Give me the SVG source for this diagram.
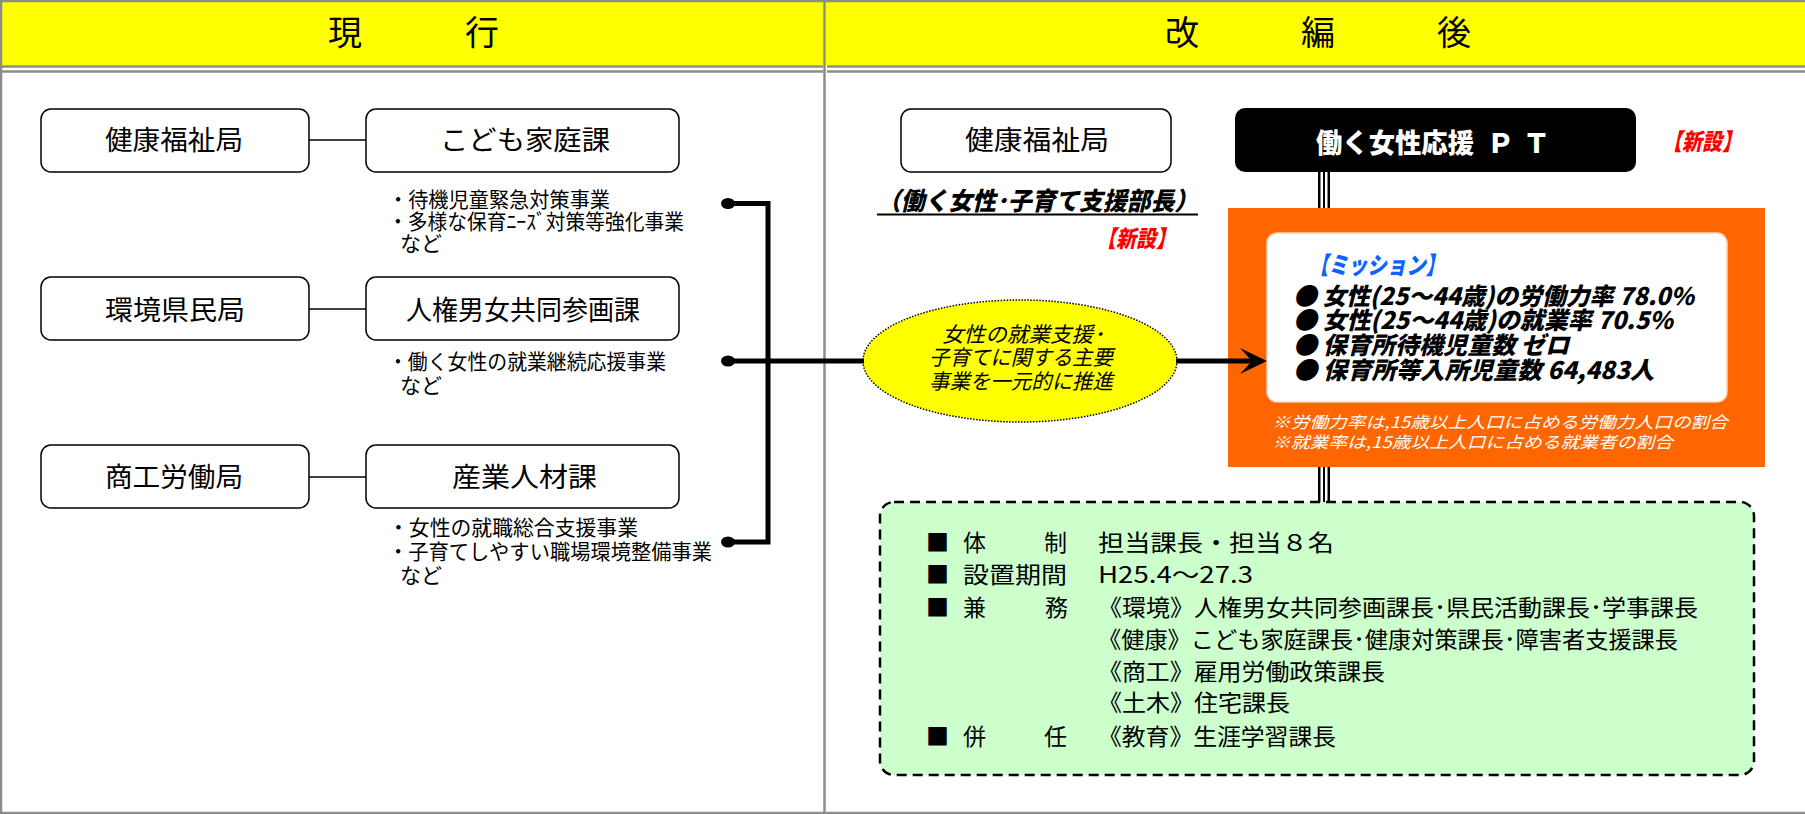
<svg xmlns="http://www.w3.org/2000/svg" width="1805" height="814" viewBox="0 0 1805 814">
<defs>
<style>
text { font-family: 'Noto Sans CJK JP', 'Noto Sans', sans-serif; fill:#000; }
.box { fill:#fff; stroke:#000; stroke-width:1.5; }
.lnk { stroke:#000; stroke-width:1.5; fill:none; }
.thick { stroke:#000; stroke-width:5; fill:none; }
.frame { stroke:#8c8c8c; fill:none; stroke-width:2.5; }
.hdr { fill:#ffff00; }
.h { font-size:34px; }
.f27 { font-size:27px; }
.f20 { font-size:21px; }
.bi { font-weight:900; font-style:italic; }
.red { fill:#ff0000; }
.row { font-size:23px; }
.dbl { stroke:#000; fill:none; }
</style>
</defs>
<rect width="1805" height="814" fill="#fff"/>

<g id="frame">
<rect class="hdr" x="2" y="2" width="821" height="63"/>
<rect class="hdr" x="826" y="2" width="1979" height="63"/>
<line class="frame" x1="0" y1="1" x2="1805" y2="1"/>
<line class="frame" x1="1" y1="0" x2="1" y2="814"/>
<line class="frame" x1="0" y1="813" x2="1805" y2="813"/>
<line class="frame" x1="824.5" y1="0" x2="824.5" y2="814"/>
<line class="frame" x1="2" y1="66.5" x2="823" y2="66.5"/>
<line class="frame" x1="2" y1="71.5" x2="823" y2="71.5"/>
<line class="frame" x1="827" y1="66.5" x2="1805" y2="66.5"/>
<line class="frame" x1="827" y1="71.5" x2="1805" y2="71.5"/>
<text class="h" x="328" y="45" textLength="171" lengthAdjust="spacing">現　　行</text>
<text class="h" x="1165" y="45" textLength="306" lengthAdjust="spacing">改　　編　　後</text>
</g>

<g id="kenko-kyoku-old">
<rect class="box" x="41" y="109" width="268" height="63" rx="10"/>
<text class="f27" x="105" y="150" textLength="138" lengthAdjust="spacingAndGlyphs">健康福祉局</text>
</g>
<g id="kodomo-ka">
<rect class="box" x="366" y="109" width="313" height="63" rx="10"/>
<text class="f27" x="440" y="150" textLength="170" lengthAdjust="spacingAndGlyphs">こども家庭課</text>
<text class="f20" x="388" y="207" textLength="222" lengthAdjust="spacingAndGlyphs">・待機児童緊急対策事業</text>
<text class="f20" x="388" y="229" textLength="296" lengthAdjust="spacingAndGlyphs">・多様な保育ﾆｰｽﾞ対策等強化事業</text>
<text class="f20" x="400" y="251">など</text>
</g>

<g id="kankyo-kyoku">
<rect class="box" x="41" y="277" width="268" height="63" rx="10"/>
<text class="f27" x="105" y="320" textLength="140" lengthAdjust="spacingAndGlyphs">環境県民局</text>
</g>
<g id="jinken-ka">
<rect class="box" x="366" y="277" width="313" height="63" rx="10"/>
<text class="f27" x="406" y="320" textLength="234" lengthAdjust="spacingAndGlyphs">人権男女共同参画課</text>
<text class="f20" x="388" y="369" textLength="278" lengthAdjust="spacingAndGlyphs">・働く女性の就業継続応援事業</text>
<text class="f20" x="400" y="393">など</text>
</g>

<g id="shoko-kyoku">
<rect class="box" x="41" y="445" width="268" height="63" rx="10"/>
<text class="f27" x="105" y="487" textLength="138" lengthAdjust="spacingAndGlyphs">商工労働局</text>
</g>
<g id="sangyo-ka">
<rect class="box" x="366" y="445" width="313" height="63" rx="10"/>
<text class="f27" x="452" y="487" textLength="145" lengthAdjust="spacingAndGlyphs">産業人材課</text>
<text class="f20" x="388" y="535" textLength="250" lengthAdjust="spacingAndGlyphs">・女性の就職総合支援事業</text>
<text class="f20" x="388" y="559" textLength="324" lengthAdjust="spacingAndGlyphs">・子育てしやすい職場環境整備事業</text>
<text class="f20" x="400" y="583">など</text>
</g>

<g id="kenko-kyoku-new">
<rect class="box" x="901" y="109" width="270" height="63" rx="10"/>
<text class="f27" x="965" y="150" textLength="144" lengthAdjust="spacingAndGlyphs">健康福祉局</text>
<text class="bi" font-size="25" x="877" y="210" textLength="321" lengthAdjust="spacingAndGlyphs">（働く女性･子育て支援部長）</text>
<line x1="877" y1="214.5" x2="1198" y2="214.5" stroke="#000" stroke-width="2"/>
<text class="bi red" font-size="23" x="1096" y="247" textLength="80" lengthAdjust="spacingAndGlyphs">【新設】</text>
</g>

<g id="pt">
<rect x="1235" y="108" width="401" height="64" rx="10" fill="#000"/>
<text font-size="27" font-weight="900" x="1316" y="153" style="fill:#fff"><tspan textLength="158" lengthAdjust="spacingAndGlyphs">働く女性応援</tspan><tspan x="1487">Ｐ</tspan><tspan x="1523">Ｔ</tspan></text>
<text class="bi red" font-size="23" x="1662" y="150" textLength="80" lengthAdjust="spacingAndGlyphs">【新設】</text>
</g>

<g id="ellipse-node">
<ellipse cx="1020" cy="361" rx="157" ry="61" fill="#ffff00" stroke="#000" stroke-width="1.5" stroke-dasharray="1.5 1.5"/>
<text class="f20" font-style="italic" x="942" y="342" textLength="162" lengthAdjust="spacingAndGlyphs">女性の就業支援･</text>
<text class="f20" font-style="italic" x="929" y="365" textLength="184" lengthAdjust="spacingAndGlyphs">子育てに関する主要</text>
<text class="f20" font-style="italic" x="929" y="389" textLength="184" lengthAdjust="spacingAndGlyphs">事業を一元的に推進</text>
</g>

<g id="mission">
<rect x="1228" y="208" width="537" height="259" fill="#ff6600"/>
<rect x="1267" y="233" width="460" height="169" rx="10" fill="#fff" stroke="#ffd2b4" stroke-width="1.5"/>
<text class="bi" font-size="24" x="1309" y="274" textLength="136" lengthAdjust="spacingAndGlyphs" style="fill:#0a64ff">【ミッション】</text>
<text class="bi" font-size="24" x="1293" y="305" textLength="401" lengthAdjust="spacingAndGlyphs">● 女性(25～44歳)の労働力率 78.0%</text>
<text class="bi" font-size="24" x="1293" y="329" textLength="380" lengthAdjust="spacingAndGlyphs">● 女性(25～44歳)の就業率 70.5%</text>
<text class="bi" font-size="24" x="1293" y="354" textLength="276" lengthAdjust="spacingAndGlyphs">● 保育所待機児童数 ゼロ</text>
<text class="bi" font-size="24" x="1293" y="379" textLength="361" lengthAdjust="spacingAndGlyphs">● 保育所等入所児童数 64,483人</text>
<text font-size="16" font-style="italic" x="1272" y="428" textLength="456" lengthAdjust="spacingAndGlyphs" style="fill:#fff">※労働力率は,15歳以上人口に占める労働力人口の割合</text>
<text font-size="16" font-style="italic" x="1272" y="448" textLength="401" lengthAdjust="spacingAndGlyphs" style="fill:#fff">※就業率は,15歳以上人口に占める就業者の割合</text>
</g>

<g id="taisei">
<rect x="880" y="502" width="874" height="273" rx="14" fill="#ccffcc" stroke="#000" stroke-width="2.5" stroke-dasharray="10 6"/>
<text class="row" x="926" y="551">■</text>
<text class="row" x="963" y="551" textLength="104" lengthAdjust="spacing">体　　制</text>
<text class="row" x="1098" y="551" textLength="236" lengthAdjust="spacingAndGlyphs">担当課長・担当８名</text>
<text class="row" x="926" y="583">■</text>
<text class="row" x="963" y="583" textLength="104" lengthAdjust="spacingAndGlyphs">設置期間</text>
<text class="row" x="1098" y="583" textLength="155" lengthAdjust="spacingAndGlyphs">H25.4～27.3</text>
<text class="row" x="926" y="616">■</text>
<text class="row" x="963" y="616" textLength="105" lengthAdjust="spacing">兼　　務</text>
<text class="row" x="1098" y="616" textLength="600" lengthAdjust="spacingAndGlyphs">《環境》人権男女共同参画課長･県民活動課長･学事課長</text>
<text class="row" x="1098" y="648" textLength="580" lengthAdjust="spacingAndGlyphs">《健康》こども家庭課長･健康対策課長･障害者支援課長</text>
<text class="row" x="1098" y="680" textLength="287" lengthAdjust="spacingAndGlyphs">《商工》雇用労働政策課長</text>
<text class="row" x="1098" y="711" textLength="192" lengthAdjust="spacingAndGlyphs">《土木》住宅課長</text>
<text class="row" x="926" y="745">■</text>
<text class="row" x="963" y="745" textLength="104" lengthAdjust="spacing">併　　任</text>
<text class="row" x="1098" y="745" textLength="238" lengthAdjust="spacingAndGlyphs">《教育》生涯学習課長</text>
</g>

<g id="connectors">
<line class="lnk" x1="309" y1="140" x2="366" y2="140"/>
<line class="lnk" x1="309" y1="309" x2="366" y2="309"/>
<line class="lnk" x1="309" y1="477" x2="366" y2="477"/>
<ellipse cx="728" cy="203.5" rx="7" ry="5.5"/>
<ellipse cx="728" cy="361" rx="7" ry="5.5"/>
<ellipse cx="728" cy="542" rx="7" ry="5.5"/>
<polyline class="thick" points="728,203.5 768,203.5 768,542 728,542"/>
<line class="thick" x1="728" y1="361" x2="864" y2="361"/>
<line class="thick" x1="1176" y1="361" x2="1254" y2="361" stroke-width="5.5"/>
<polygon points="1267,361 1240,348 1252,361 1240,374" fill="#000"/>
<line class="dbl" x1="1319.25" y1="172" x2="1319.25" y2="208" stroke-width="2.5"/>
<line class="dbl" x1="1324" y1="172" x2="1324" y2="208" stroke-width="2"/>
<line class="dbl" x1="1328.75" y1="172" x2="1328.75" y2="208" stroke-width="2.5"/>
<line class="dbl" x1="1319.25" y1="467" x2="1319.25" y2="502" stroke-width="2.5"/>
<line class="dbl" x1="1324" y1="467" x2="1324" y2="502" stroke-width="2"/>
<line class="dbl" x1="1328.75" y1="467" x2="1328.75" y2="502" stroke-width="2.5"/>
</g>
</svg>
